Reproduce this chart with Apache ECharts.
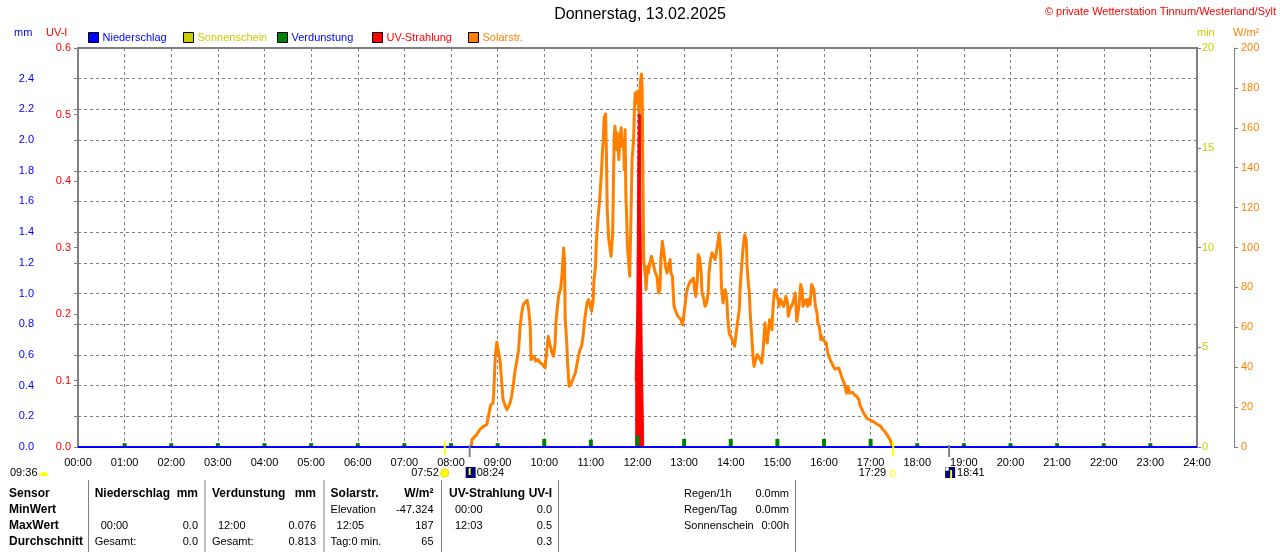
<!DOCTYPE html>
<html>
<head>
<meta charset="utf-8">
<script src="https://cdn.jsdelivr.net/npm/echarts/dist/echarts.min.js"></script>
<style>html,body{margin:0;padding:0;background:#fff}#c{width:1280px;height:552px}</style>
</head>
<body>
<div id="c"></div>
<script>
// ---------------- data ----------------
const chartTitle = "Donnerstag, 13.02.2025";
const copyrightText = "\u00A9 private Wetterstation Tinnum/Westerland/Sylt";
const xTickLabels = ["00:00","01:00","02:00","03:00","04:00","05:00","06:00","07:00","08:00","09:00","10:00","11:00","12:00",
  "13:00","14:00","15:00","16:00","17:00","18:00","19:00","20:00","21:00","22:00","23:00","24:00"];

// Niederschlag (mm) – hourly
const precipTimes = ["00:00","01:00","02:00","03:00","04:00","05:00","06:00","07:00","08:00","09:00","10:00","11:00","12:00",
  "13:00","14:00","15:00","16:00","17:00","18:00","19:00","20:00","21:00","22:00","23:00","24:00"];
const precipValues = [0,0,0,0,0,0,0,0,0,0,0,0,0,0,0,0,0,0,0,0,0,0,0,0,0];

// Verdunstung (mm) – hourly
const evapTimes = ["01:00","02:00","03:00","04:00","05:00","06:00","07:00","08:00","09:00","10:00","11:00","12:00",
  "13:00","14:00","15:00","16:00","17:00","18:00","19:00","20:00","21:00","22:00","23:00"];
const evapValues = [0.025,0.025,0.025,0.025,0.025,0.025,0.025,0.025,0.025,0.052,0.048,0.076,
  0.052,0.052,0.052,0.052,0.052,0.025,0.025,0.025,0.025,0.025,0.025];

// UV-Strahlung (UV-I): value holds from its time until the next time
const uvTimes = ["11:57","11:59","12:01","12:04","12:06","12:08"];
const uvValues = [0.1,0.2,0.5,0.4,0.15,0];

// Sonnenschein (min) – none this day
const sunshineTimes = [];
const sunshineValues = [];

// Solarstrahlung (W/m²)
const solarTimes = [
  "08:26","08:27","08:33","08:37","08:42","08:46","08:48","08:49","08:51","08:54","08:55","08:57","08:59",
  "09:01","09:03","09:05","09:07","09:10","09:12","09:14","09:16","09:18","09:20","09:22","09:25","09:27","09:29","09:31","09:33","09:35","09:38","09:40","09:42","09:43","09:44","09:47","09:49","09:52","09:55","09:58",
  "10:01","10:03","10:05","10:07","10:10","10:12","10:14","10:15","10:17","10:19","10:21","10:23","10:25","10:26","10:27","10:29","10:30","10:32","10:33","10:35","10:37","10:40","10:42","10:44","10:46","10:48","10:50","10:52","10:55","10:57","10:59",
  "11:01","11:03","11:04","11:06","11:07","11:09","11:11","11:13","11:14","11:15","11:16","11:17","11:19","11:20","11:21","11:23","11:25","11:26","11:28","11:29","11:30","11:31","11:33","11:34","11:36","11:37","11:39","11:40","11:42","11:43","11:44","11:45","11:46","11:47","11:49","11:50","11:51","11:52","11:53","11:55","11:56","11:57","11:59",
  "12:00","12:02","12:04","12:05","12:06","12:07","12:08","12:10","12:11","12:13","12:14","12:16","12:18","12:20","12:23","12:25","12:27","12:29","12:30","12:32","12:34","12:36","12:38","12:40","12:42","12:43","12:45","12:46","12:47","12:50","12:52","12:54","12:56","12:58",
  "13:00","13:02","13:03","13:05","13:08","13:10","13:12","13:14","13:15","13:17","13:18","13:20","13:22","13:23","13:25","13:27","13:29","13:31","13:32","13:34","13:36","13:38","13:40","13:42","13:44","13:45","13:47","13:48","13:50","13:51","13:53","13:55","13:56","13:58",
  "14:00","14:02","14:05","14:07","14:08","14:11","14:12","14:14","14:16","14:18","14:20","14:21","14:23","14:24","14:25","14:27","14:29","14:30","14:32","14:34","14:36","14:38","14:40","14:42","14:44","14:45","14:47","14:49","14:50","14:53","14:54","14:56","14:57","14:59",
  "15:01","15:02","15:04","15:06","15:08","15:11","15:13","15:14","15:16","15:18","15:20","15:21","15:23","15:25","15:26","15:28","15:30","15:32","15:33","15:35","15:37","15:39","15:40","15:42","15:44","15:45","15:47","15:49","15:51","15:52","15:54","15:56","15:57","15:59",
  "16:01","16:03","16:04","16:06","16:08","16:10","16:12","16:14","16:16","16:19","16:21","16:24","16:26","16:27","16:29","16:31","16:33","16:34","16:37","16:39","16:42","16:45","16:46","16:48","16:51","16:53","16:55","16:57",
  "17:00","17:03","17:05","17:08","17:10","17:13","17:15","17:18","17:21","17:23","17:25","17:27","17:28"
];
const solarValues = [
  0,3.7,6.2,8.7,10.4,11.2,12,17,21,22,27,45.5,52.5,
  52,43.8,33.8,23.7,20.4,18.7,18.7,22,25.4,30.4,37.1,43.8,48.8,60.5,67.2,71.4,72.2,73.5,68.8,60.5,43.8,43,45.5,43,43.8,42.1,41.3,
  39.6,47.1,55.5,52.1,47.1,45.5,52.1,62.2,70.5,77.2,78.9,87.2,99.8,94,63.8,52.1,42.1,30.4,29.6,32.1,32.9,37.1,41.3,45.5,48.8,50.5,55.5,63.8,72.2,73.9,73,
  68,73.9,83.9,90.6,102.3,114,122.3,134,140.7,149,154,165,167,147.4,119,104,103,95.6,107.3,130.7,155.7,160.8,149,157.4,144,152.4,160,150.7,154,139,159,127.3,115.6,100.6,90.6,85.6,104,124,144,154,169,177.5,172.5,
  178.3,167.4,184,187,179,135.7,94,85.6,78.9,90.6,87.2,92.2,95.6,92.2,87.2,85.6,77.2,78.9,94,103.1,97.3,90.6,87.2,90.6,94,87.2,85.6,77.2,70.5,67.2,65.5,66.3,63.8,61.3,
  67.2,73.9,77.2,80.5,83,83.9,84.7,77.2,75.5,83.9,96.4,94.7,87.2,77.2,74.7,70.5,72.2,77.2,87.2,94,97.3,95.6,94,99,104,107.3,97.3,80.5,72.2,75.5,78.9,73.9,65.5,57.1,
  55.5,55.5,50.5,50.5,60.5,68.8,78.9,90.6,100.6,106.4,103.6,90.6,80.5,77.2,67.2,55.5,43.8,40.4,43.8,46.3,45.5,43.8,42.1,50.5,62.2,57.1,52.1,60.5,63.8,58.8,67.2,77.2,78.9,79.7,
  73.9,70.5,73.9,73,70.5,75.5,72.2,65.5,68.8,70.5,72.2,73.9,77.2,63,65.5,71.4,81.4,78.9,70.5,72.2,73.9,70.5,73.9,71.4,81.4,82.2,78.9,70.5,67.2,62.2,60.5,53.8,55.5,53.8,
  53,52.1,48.8,45.5,43.8,42.1,40.4,39.1,39.1,39.6,38.8,33.8,32.1,30.4,27,30.4,27,27.9,27.4,26.2,25.4,23.7,21.2,19.6,17,15.7,14.5,14,
  13.4,12.9,12,11.5,11.2,10.4,9,7.9,6.2,5.3,3.7,2.8,0
];

// Sun / moon events shown below the time axis
const sunriseTime = "07:52";
const sunsetTime = "17:29";
const moonsetTime = "08:24";
const moonriseTime = "18:41";
const dayLengthText = "09:36";

// Statistics table
const tableHeader = ["Sensor","Niederschlag","mm","Verdunstung","mm","Solarstr.","W/m\u00B2","UV-Strahlung","UV-I"];
const tableMin    = ["MinWert","","","","","Elevation","-47.324","00:00","0.0"];
const tableMax    = ["MaxWert","00:00","0.0","12:00","0.076","12:05","187","12:03","0.5"];
const tableAvg    = ["Durchschnitt","Gesamt:","0.0","Gesamt:","0.813","Tag:0 min.","65","","0.3"];
const rainLabels  = ["Regen/1h","Regen/Tag","Sonnenschein"];
const rainValues  = ["0.0mm","0.0mm","0:00h"];

// ---------------- helpers / layout ----------------
const FONT = '"Liberation Sans", Arial, sans-serif';
const toH = s => { const p = s.split(':').map(Number); return p[0] + p[1] / 60; };
const pairs = (ts, vs) => ts.map((t, i) => [toH(t), vs[i]]);

function txt(x, y, s, color, opt) {
  opt = opt || {};
  const align = opt.align || 'left';
  return {type: 'text', x: x, y: y, silent: true, z: 100,
    style: {text: s, fill: color || '#000', font: (opt.bold ? 'bold ' : '') + (opt.size || 11) + 'px ' + FONT,
      textAlign: align, align: align, textVerticalAlign: 'middle', verticalAlign: 'middle'}};
}
function vline(x, y1, y2, color, w) {
  return {type: 'line', silent: true, z: 100, shape: {x1: x, y1: y1, x2: x, y2: y2}, style: {stroke: color, lineWidth: w || 1}};
}

const gridLine = {color: '#808080', width: 1, type: [3, 3]};
const axisGray = '#808080';

function legendAt(left, name, color) {
  return {left: left, top: 32, padding: 0, icon: 'rect', itemWidth: 10, itemHeight: 10, itemGap: 0, selectedMode: false,
    itemStyle: {borderColor: '#000', borderWidth: 1},
    textStyle: {fontSize: 11, fontFamily: FONT, color: color, padding: [0, 0, 0, -1]},
    data: [{name: name, textStyle: {color: color}}]};
}

const chart = echarts.init(document.getElementById('c'), null, {renderer: 'canvas'});

const option = {
  animation: false,
  backgroundColor: '#fff',
  title: {text: chartTitle, left: 'center', top: 7, padding: 0,
    textStyle: {fontSize: 16, fontWeight: 'normal', color: '#000', fontFamily: FONT}},
  legend: [
    legendAt(88, 'Niederschlag', '#0000ff'),
    legendAt(183, 'Sonnenschein', '#cccc00'),
    legendAt(277, 'Verdunstung', '#0000ff'),
    legendAt(372, 'UV-Strahlung', '#ff0000'),
    legendAt(468, 'Solarstr.', '#ff8000')
  ],
  grid: {left: 78, right: 83, top: 48, bottom: 105, show: true, borderColor: axisGray, borderWidth: 2,
    containLabel: false, outerBoundsMode: 'none'},
  xAxis: {
    type: 'value', min: 0, max: 24, interval: 1,
    axisLine: {show: true, onZero: false, lineStyle: {color: axisGray, width: 2}},
    axisTick: {show: false},
    axisLabel: {color: '#000', fontSize: 11, fontFamily: FONT, margin: 10, hideOverlap: false,
      formatter: v => xTickLabels[Math.round(v)]},
    splitLine: {show: true, lineStyle: gridLine}
  },
  yAxis: [
    { // mm
      type: 'value', position: 'left', offset: 38, min: 0, max: 2.6, interval: 0.2,
      axisLine: {show: true, lineStyle: {color: axisGray, width: 1}},
      axisTick: {show: true, length: 4, lineStyle: {color: axisGray}},
      axisLabel: {color: '#0000ff', fontSize: 11, fontFamily: FONT, margin: 6, showMaxLabel: false,
        formatter: v => v.toFixed(1)},
      splitLine: {show: true, lineStyle: gridLine}
    },
    { // UV-I
      type: 'value', position: 'left', offset: 0, min: 0, max: 0.6, interval: 0.1,
      axisLine: {show: true, lineStyle: {color: axisGray, width: 2}},
      axisTick: {show: true, length: 4, lineStyle: {color: axisGray}},
      axisLabel: {color: '#ff0000', fontSize: 11, fontFamily: FONT, margin: 7, formatter: v => v.toFixed(1)},
      splitLine: {show: false}
    },
    { // min
      type: 'value', position: 'right', offset: 0, min: 0, max: 20, interval: 5,
      axisLine: {show: true, lineStyle: {color: axisGray, width: 2}},
      axisTick: {show: true, length: 4, lineStyle: {color: axisGray}},
      axisLabel: {color: '#cccc00', fontSize: 11, fontFamily: FONT, margin: 5},
      splitLine: {show: false}
    },
    { // W/m²
      type: 'value', position: 'right', offset: 37, min: 0, max: 200, interval: 20,
      axisLine: {show: true, lineStyle: {color: axisGray, width: 1}},
      axisTick: {show: true, length: 4, lineStyle: {color: axisGray}},
      axisLabel: {color: '#ff8000', fontSize: 11, fontFamily: FONT, margin: 7},
      splitLine: {show: false}
    }
  ],
  series: [
    {name: 'Solarstr.', type: 'line', yAxisIndex: 3, data: pairs(solarTimes, solarValues),
      symbol: 'none', showSymbol: false, silent: true, z: 3,
      itemStyle: {color: '#ff8000'}, lineStyle: {color: '#ff8000', width: 3, join: 'round'}},
    {name: 'UV-Strahlung', type: 'line', yAxisIndex: 1, step: 'end', data: pairs(uvTimes, uvValues),
      symbol: 'none', showSymbol: false, silent: true, z: 6,
      itemStyle: {color: '#ff0000'}, lineStyle: {color: '#ff0000', width: 1},
      areaStyle: {color: '#ff0000', opacity: 1, origin: 'start'}},
    {name: 'Sonnenschein', type: 'line', yAxisIndex: 2, data: pairs(sunshineTimes, sunshineValues),
      symbol: 'none', silent: true, itemStyle: {color: '#cccc00'}, lineStyle: {color: '#cccc00'}},
    {name: 'Verdunstung', type: 'bar', yAxisIndex: 0, data: pairs(evapTimes, evapValues),
      barWidth: 4, silent: true, z: 8, itemStyle: {color: '#008000'}},
    {name: 'Niederschlag', type: 'line', yAxisIndex: 0, data: pairs(precipTimes, precipValues),
      symbol: 'none', showSymbol: false, silent: true, z: 10,
      itemStyle: {color: '#0000ff'}, lineStyle: {color: '#0000ff', width: 2}}
  ]
};
chart.setOption(option);

// ---------------- text graphics (names, table, sun/moon) ----------------
const g = [];
g.push(txt(1276, 12, copyrightText, '#ff0000', {align: 'right', size: 11}));
g.push(txt(14, 33, 'mm', '#0000ff'));
g.push(txt(46, 33, 'UV-I', '#ff0000'));
g.push(txt(1197, 33, 'min', '#cccc00'));
g.push(txt(1233, 33, 'W/m\u00B2', '#ff8000'));

const px = t => chart.convertToPixel({xAxisIndex: 0}, toH(t));
const labY = 473;
// sunrise
const xr = px(sunriseTime);
g.push(vline(xr, 441, 455, '#ffff00', 2));
g.push(txt(xr - 6, labY, sunriseTime, '#000', {align: 'right'}));
g.push({type: 'circle', silent: true, z: 100, shape: {cx: xr, cy: labY, r: 4}, style: {fill: '#ffff00', stroke: '#ffd800', lineWidth: 1}});
// moonset
const xm = px(moonsetTime);
g.push(vline(xm, 445, 457, '#808080', 2));
g.push({type: 'rect', silent: true, z: 100, shape: {x: xm - 4, y: 467, width: 10, height: 11}, style: {fill: '#000080'}});
g.push(vline(xm, 468, 475, '#ffff00', 2));
g.push(txt(xm + 7, labY, moonsetTime, '#000'));
// sunset
const xs = px(sunsetTime);
g.push(vline(xs, 441, 456, '#ffff00', 2));
g.push(txt(xs - 7, labY, sunsetTime, '#000', {align: 'right'}));
g.push({type: 'rect', silent: true, z: 100, shape: {x: xs - 3, y: 471, width: 5, height: 5}, style: {fill: '#fff', stroke: '#ffff00', lineWidth: 1}});
// moonrise
const xmr = px(moonriseTime);
g.push(vline(xmr, 445, 457, '#808080', 2));
g.push({type: 'rect', silent: true, z: 100, shape: {x: xmr - 4, y: 467, width: 10, height: 11}, style: {fill: '#000080'}});
g.push(vline(xmr + 2, 470, 478, '#ffff00', 2));
g.push({type: 'circle', silent: true, z: 101, shape: {cx: xmr - 2, cy: 469, r: 2}, style: {fill: '#fff'}});
g.push(txt(xmr + 8, labY, moonriseTime, '#000'));
// day length
g.push(txt(10, labY, dayLengthText, '#000'));
g.push({type: 'sector', silent: true, z: 100, shape: {cx: 44, cy: 476, r0: 0, r: 4, startAngle: Math.PI, endAngle: 2 * Math.PI}, style: {fill: '#ffff00'}});

// table
const colX = [9, 94.7, 198, 212, 316, 330.6, 433.5, 449, 552];
const colAlign = ['left','left','right','left','right','left','right','left','right'];
const rowY = [494, 510, 526, 542];
[tableHeader, tableMin, tableMax, tableAvg].forEach((row, r) => {
  row.forEach((s, c) => {
    if (!s) return;
    let x = colX[c];
    if (r > 0 && c > 0 && colAlign[c] === 'left' && /^\d\d:\d\d$/.test(s)) x += 6;
    const bold = (r === 0 || c === 0);
    g.push(txt(x, rowY[r], s, '#000', {align: colAlign[c], bold: bold, size: bold ? 12 : 11}));
  });
});
rainLabels.forEach((s, i) => {
  g.push(txt(684, rowY[i], s, '#000'));
  g.push(txt(789, rowY[i], rainValues[i], '#000', {align: 'right'}));
});
[88.5, 205, 324, 441.5, 558.5, 795.5].forEach(x => g.push(vline(x, 480, 552, '#808080', 1)));

chart.setOption({graphic: g});
</script>
</body>
</html>
